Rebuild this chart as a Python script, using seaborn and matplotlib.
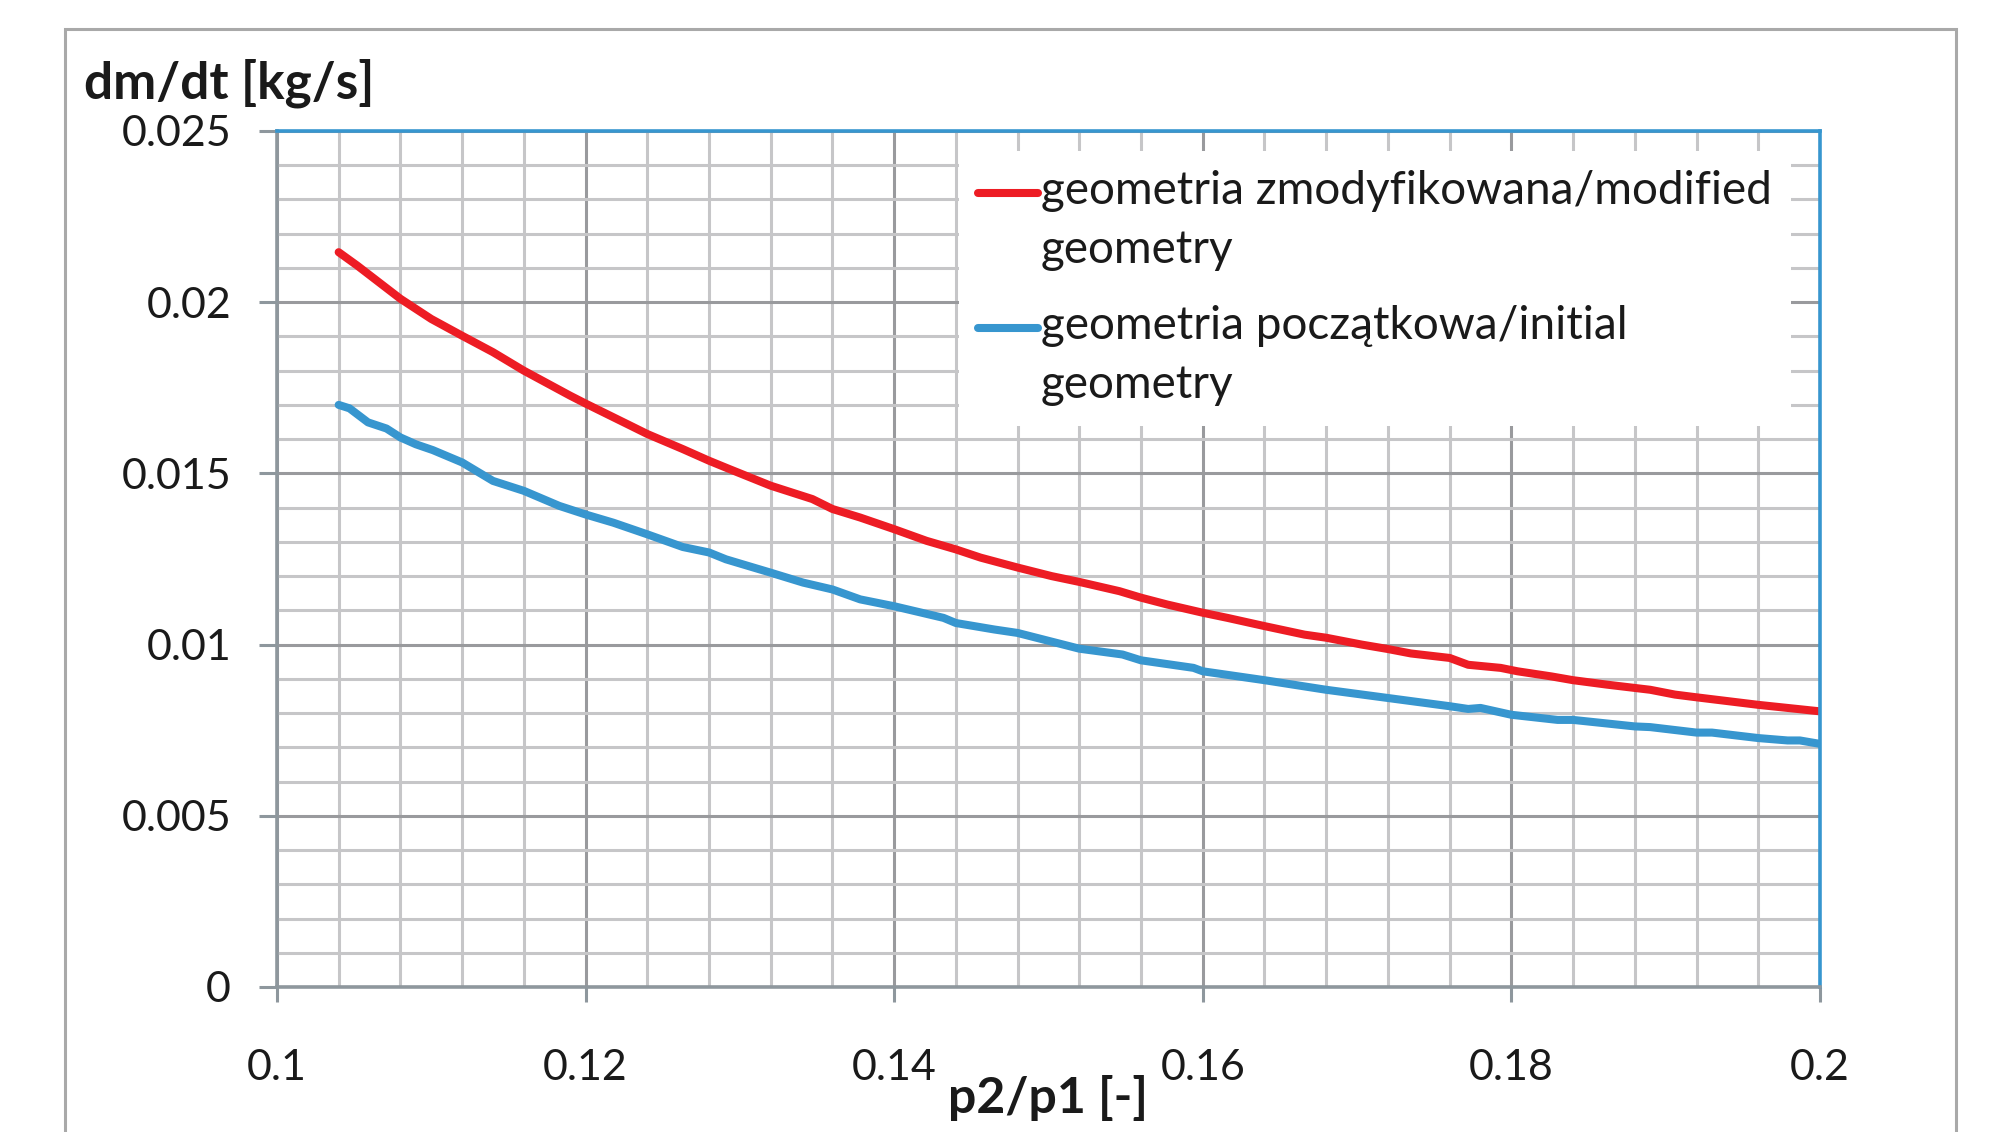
import matplotlib
matplotlib.use("Agg")
import matplotlib.pyplot as plt
import matplotlib.patches as mpatches
from matplotlib.legend_handler import HandlerLine2D
from matplotlib.ticker import MultipleLocator
import seaborn as sns

# modified geometry (red)
x_mod = [0.104, 0.1052, 0.108, 0.110, 0.112, 0.114, 0.116, 0.119, 0.120, 0.1227,
         0.124, 0.1263, 0.128, 0.1293, 0.132, 0.1347, 0.136, 0.1378, 0.140, 0.1421,
         0.144, 0.1456, 0.148, 0.1502, 0.152, 0.1546, 0.156, 0.1577, 0.160, 0.1616,
         0.164, 0.1666, 0.168, 0.1703, 0.172, 0.1735, 0.176, 0.1772, 0.1793, 0.1804,
         0.1826, 0.184, 0.1862, 0.189, 0.1906, 0.192, 0.196, 0.200]
y_mod = [0.02146, 0.02107, 0.0201, 0.01951, 0.01902, 0.01854, 0.0180, 0.01727, 0.01704, 0.01644,
         0.01615, 0.01571, 0.01537, 0.01513, 0.01464, 0.01425, 0.01396, 0.01371, 0.01337, 0.01303,
         0.01278, 0.01254, 0.01225, 0.0120, 0.01183, 0.01156, 0.01137, 0.01117, 0.01093, 0.01078,
         0.01054, 0.01029, 0.0102, 0.0100, 0.00987, 0.00974, 0.00961, 0.00941, 0.00932, 0.00922,
         0.00907, 0.00896, 0.00883, 0.00868, 0.00854, 0.00846, 0.00824, 0.00805]

# initial geometry (blue)
x_init = [0.104, 0.1047, 0.1059, 0.1071, 0.108, 0.109, 0.1101, 0.112, 0.114, 0.116,
          0.1183, 0.120, 0.1218, 0.124, 0.1263, 0.128, 0.1291, 0.132, 0.1341, 0.136,
          0.1378, 0.140, 0.1432, 0.144, 0.1465, 0.148, 0.152, 0.1548, 0.156, 0.1594,
          0.160, 0.164, 0.168, 0.172, 0.176, 0.1772, 0.178, 0.180, 0.183, 0.184,
          0.188, 0.189, 0.192, 0.193, 0.196, 0.1979, 0.1987, 0.200]
y_init = [0.0170, 0.0169, 0.01649, 0.01631, 0.01605, 0.01585, 0.01568, 0.01532, 0.01478, 0.01449,
          0.01405, 0.0138, 0.01356, 0.01322, 0.01285, 0.01269, 0.01249, 0.0121, 0.01181, 0.01161,
          0.01132, 0.01112, 0.01078, 0.01063, 0.01044, 0.01034, 0.00988, 0.00971, 0.00954, 0.00932,
          0.00922, 0.00896, 0.00868, 0.00844, 0.0082, 0.00812, 0.00815, 0.00795, 0.0078, 0.0078,
          0.00761, 0.00759, 0.00743, 0.00743, 0.00727, 0.0072, 0.0072, 0.0071]

label_mod = 'geometria zmodyfikowana/modified\ngeometry'
label_init = 'geometria początkowa/initial\ngeometry'
x_ticks = [0.1, 0.12, 0.14, 0.16, 0.18, 0.2]
x_tick_labels = ['0.1', '0.12', '0.14', '0.16', '0.18', '0.2']
y_ticks = [0, 0.005, 0.01, 0.015, 0.02, 0.025]
y_tick_labels = ['0', '0.005', '0.01', '0.015', '0.02', '0.025']

red = '#ed1c24'
blue = '#3796cf'
axis_gray = '#8e979d'

sns.set_theme(style='white')
plt.rcParams['font.family'] = ['Lato', 'DejaVu Sans']


class FirstLineHandler(HandlerLine2D):
    # put the legend line next to the first text line, like Excel does
    def create_artists(self, legend, orig_handle, xdescent, ydescent, width, height, fontsize, trans):
        arts = super().create_artists(legend, orig_handle, xdescent, ydescent, width, height, fontsize, trans)
        for a in arts:
            a.set_ydata([y + 0.62 * fontsize for y in a.get_ydata()])
        return arts


fig = plt.figure(figsize=(19.91, 11.32), dpi=100)
ax = fig.add_axes([0.1391, 0.1281, 0.775, 0.7562])

sns.lineplot(x=x_mod, y=y_mod, color=red, lw=5.8, ax=ax, label=label_mod, estimator=None, sort=False)
sns.lineplot(x=x_init, y=y_init, color=blue, lw=5.8, ax=ax, label=label_init, estimator=None, sort=False)

ax.set_xlim(0.1, 0.2)
ax.set_ylim(0, 0.025)
ax.set_xticks(x_ticks)
ax.set_xticklabels(x_tick_labels)
ax.set_yticks(y_ticks)
ax.set_yticklabels(y_tick_labels)
ax.xaxis.set_minor_locator(MultipleLocator(0.004))
ax.yaxis.set_minor_locator(MultipleLocator(0.001))

ax.grid(True, which='major', color='#999a9d', lw=2.2)
ax.grid(True, which='minor', color='#c6c6c8', lw=2.2)
ax.set_axisbelow(True)

for side in ['left', 'bottom']:
    ax.spines[side].set_color(axis_gray)
    ax.spines[side].set_linewidth(2.6)
for side in ['top', 'right']:
    ax.spines[side].set_color(blue)
    ax.spines[side].set_linewidth(2.6)

ax.tick_params(axis='y', which='major', left=True, direction='out', length=13, width=2.2,
               color=axis_gray, pad=20, labelsize=31, labelcolor='#1a1a1a')
ax.tick_params(axis='x', which='major', bottom=True, direction='out', length=11, width=2.2,
               color=axis_gray, pad=34, labelsize=31, labelcolor='#1a1a1a')
ax.tick_params(which='minor', length=0)

ax.set_xlabel('')
ax.set_ylabel('')
fig.text(84 / 1991, 1 - 83 / 1132, 'dm/dt [kg/s]', fontsize=37, fontweight='bold',
         ha='left', va='center', color='#1a1a1a')
fig.text(1048 / 1991, 1 - 1098 / 1132, 'p2/p1 [-]', fontsize=36, fontweight='bold',
         ha='center', va='center', color='#1a1a1a')

leg = ax.legend(handler_map={plt.Line2D: FirstLineHandler()},
                loc='upper left', bbox_to_anchor=(0.442, 0.977), borderaxespad=0,
                fontsize=33, frameon=True, facecolor='white', edgecolor='none', framealpha=1,
                fancybox=False, handlelength=1.3, handletextpad=0.06, borderpad=0.42,
                labelspacing=0.75)
for t in leg.get_texts():
    t.set_linespacing(1.5)
    t.set_color('#1a1a1a')

# outer chart frame (cut off at the bottom of the picture)
fig.patches.append(mpatches.Rectangle((65 / 1991, -0.1), (1956 - 65) / 1991, 1.1 - 29 / 1132,
                                      transform=fig.transFigure, fill=False,
                                      ec='#a9a9a9', lw=2.2, zorder=0))

plt.savefig('out.png', dpi=100)
